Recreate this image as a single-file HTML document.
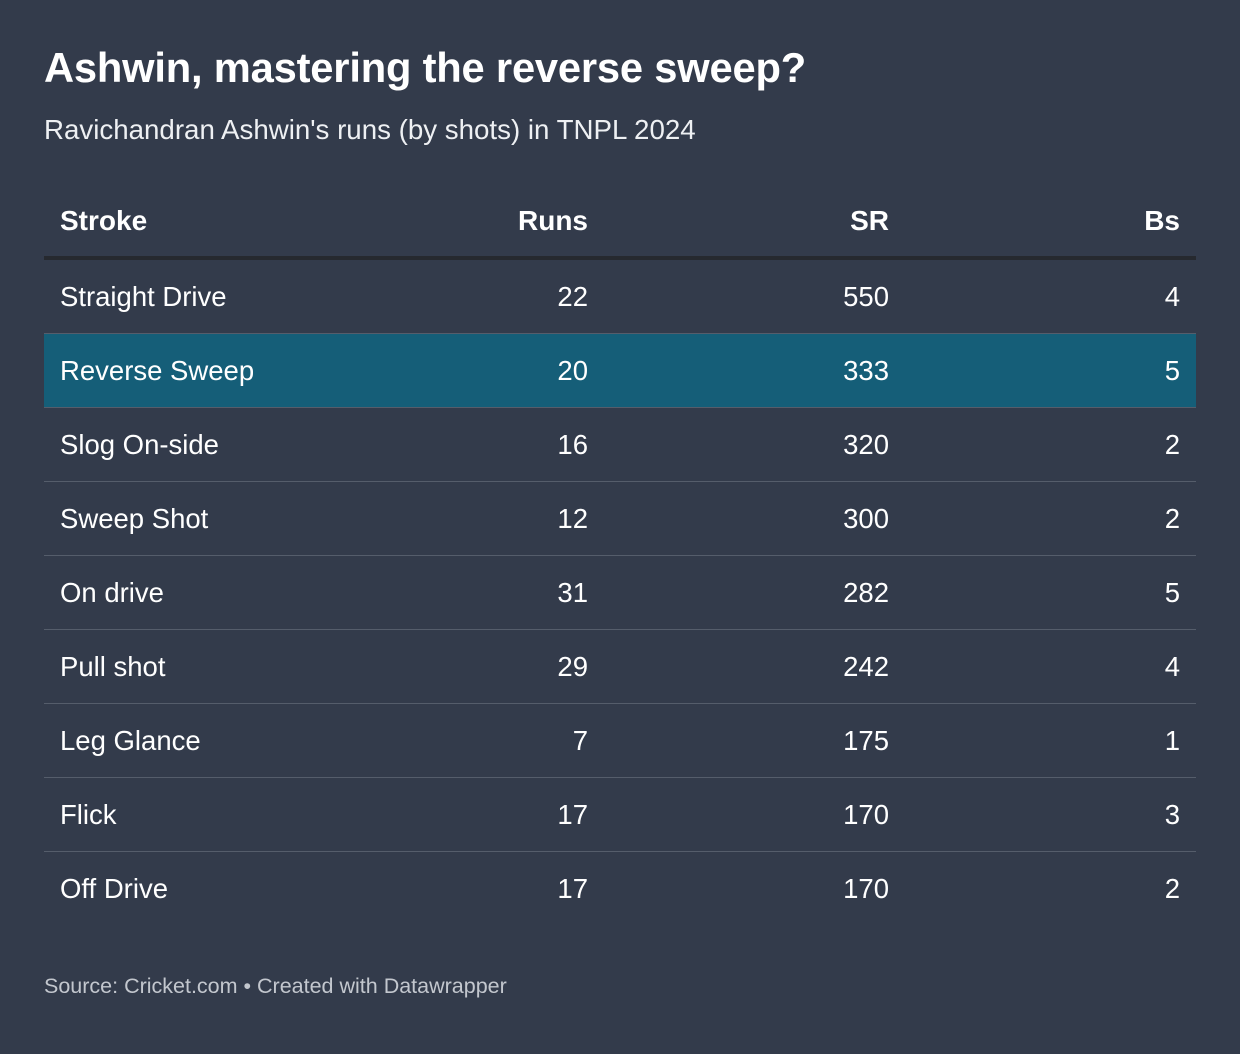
<!DOCTYPE html>
<html><head><meta charset="utf-8"><style>
body{margin:0;width:1240px;height:1054px;background:#333b4b;font-family:"Liberation Sans",sans-serif;color:#fff;position:relative;overflow:hidden}
.t{position:absolute;left:44px;top:44px;font-size:41.7px;font-weight:bold;letter-spacing:-0.2px}
.s{position:absolute;left:44px;top:114px;font-size:27.7px;color:#eef0f3}
table{position:absolute;left:44px;top:186px;width:1152px;border-collapse:collapse;font-size:27.5px;table-layout:fixed}
th{font-weight:bold;font-size:28px;height:70px;border-bottom:4px solid #26292f;padding:0 16px}
td{height:73px;border-bottom:1px solid #555d6b;padding:0 16px}
tr:last-child td{border-bottom:none}
.r{text-align:right}.l{text-align:left}
tr.h td{background:#155e78;border-top:1px solid #2a8097}
.f{position:absolute;left:44px;top:974px;font-size:21.5px;color:#c3c7ce}
</style></head><body>
<div class="t">Ashwin, mastering the reverse sweep?</div>
<div class="s">Ravichandran Ashwin's runs (by shots) in TNPL 2024</div>
<table>
<colgroup><col style="width:400px"><col style="width:160px"><col style="width:301px"><col></colgroup>
<tr><th class="l">Stroke</th><th class="r">Runs</th><th class="r">SR</th><th class="r">Bs</th></tr>
<tr><td>Straight Drive</td><td class="r">22</td><td class="r">550</td><td class="r">4</td></tr>
<tr class="h"><td>Reverse Sweep</td><td class="r">20</td><td class="r">333</td><td class="r">5</td></tr>
<tr><td>Slog On-side</td><td class="r">16</td><td class="r">320</td><td class="r">2</td></tr>
<tr><td>Sweep Shot</td><td class="r">12</td><td class="r">300</td><td class="r">2</td></tr>
<tr><td>On drive</td><td class="r">31</td><td class="r">282</td><td class="r">5</td></tr>
<tr><td>Pull shot</td><td class="r">29</td><td class="r">242</td><td class="r">4</td></tr>
<tr><td>Leg Glance</td><td class="r">7</td><td class="r">175</td><td class="r">1</td></tr>
<tr><td>Flick</td><td class="r">17</td><td class="r">170</td><td class="r">3</td></tr>
<tr><td>Off Drive</td><td class="r">17</td><td class="r">170</td><td class="r">2</td></tr>
</table>
<div class="f">Source: Cricket.com • Created with Datawrapper</div>
</body></html>
